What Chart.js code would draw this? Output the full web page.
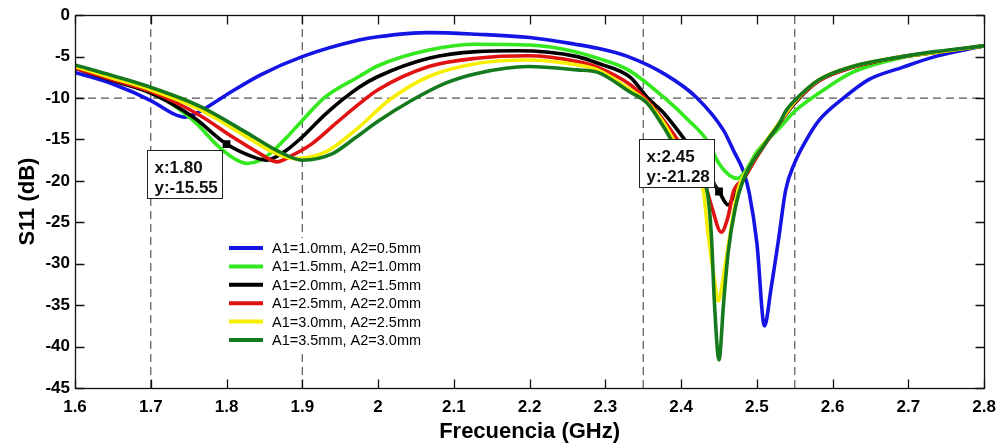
<!DOCTYPE html>
<html><head><meta charset="utf-8">
<script src="https://cdn.jsdelivr.net/npm/chart.js@4.4.1/dist/chart.umd.min.js"></script>
<style>html,body{margin:0;padding:0;background:#fff;}canvas{display:block;}</style>
</head><body>
<canvas id="c" width="1005" height="447"></canvas>
<script>
// ---------- data ----------
const seriesLabels = ['A1=1.0mm, A2=0.5mm','A1=1.5mm, A2=1.0mm','A1=2.0mm, A2=1.5mm','A1=2.5mm, A2=2.0mm','A1=3.0mm, A2=2.5mm','A1=3.5mm, A2=3.0mm'];

const freqBlue = [1.60,1.65,1.70,1.73,1.745,1.765,1.80,1.845,1.90,1.975,2.00,2.067,2.13,2.20,2.26,2.29,2.33,2.38,2.42,2.456,2.47,2.482,2.49,2.50,2.51,2.519,2.529,2.538,2.55,2.565,2.582,2.613,2.647,2.692,2.735,2.80];
const s11Blue  = [-6.9,-8.3,-10.3,-11.9,-12.3,-11.6,-9.6,-7.2,-5.0,-3.0,-2.6,-2.1,-2.3,-2.7,-3.5,-4.0,-5.0,-7.2,-9.9,-13.9,-16.5,-18.8,-21.5,-27.5,-37.5,-32.8,-26.8,-21.1,-17.8,-15.1,-12.7,-10.1,-7.8,-6.3,-5.0,-3.7];

const freqGreen = [1.60,1.65,1.70,1.756,1.79,1.81,1.827,1.845,1.86,1.88,1.90,1.93,1.975,2.00,2.067,2.13,2.20,2.26,2.29,2.33,2.377,2.41,2.434,2.45,2.465,2.475,2.485,2.50,2.53,2.551,2.582,2.626,2.692,2.735,2.80];
const s11Green  = [-6.2,-7.7,-9.2,-12.7,-15.9,-17.3,-17.9,-17.5,-16.5,-14.7,-12.7,-9.9,-7.4,-6.1,-4.2,-3.5,-3.6,-4.4,-5.2,-6.6,-9.9,-12.7,-15.1,-17.9,-19.4,-19.7,-18.8,-16.5,-13.6,-11.5,-9.4,-6.9,-5.1,-4.5,-3.7];

const freqBlack = [1.60,1.65,1.70,1.756,1.80,1.835,1.853,1.879,1.90,1.931,1.975,2.00,2.067,2.13,2.184,2.263,2.29,2.333,2.355,2.377,2.398,2.417,2.435,2.45,2.462,2.472,2.482,2.50,2.51,2.53,2.551,2.582,2.626,2.692,2.735,2.80];
const s11Black  = [-6.4,-7.9,-9.4,-12.3,-15.55,-17.1,-17.5,-16.3,-14.7,-11.9,-8.7,-7.4,-5.2,-4.4,-4.3,-5.0,-5.8,-7.5,-9.9,-11.8,-14.2,-16.6,-19.2,-21.28,-22.9,-21.4,-19.9,-17.0,-15.6,-13.0,-10.5,-7.9,-6.3,-5.0,-4.5,-3.7];

const freqRed = [1.60,1.65,1.70,1.765,1.808,1.844,1.866,1.887,1.913,1.945,1.975,2.00,2.067,2.13,2.198,2.263,2.29,2.333,2.355,2.377,2.398,2.43,2.44,2.453,2.462,2.469,2.482,2.50,2.51,2.53,2.551,2.582,2.626,2.692,2.735,2.80];
const s11Red  = [-6.4,-7.8,-9.2,-12.1,-14.7,-16.7,-17.7,-16.9,-15.5,-13.0,-10.7,-9.0,-6.2,-5.2,-4.9,-5.6,-6.3,-8.4,-10.3,-12.7,-15.4,-19.9,-23.0,-26.2,-24.3,-21.3,-19.8,-17.1,-15.7,-13.0,-10.4,-7.9,-6.3,-5.0,-4.5,-3.7];

const freqYellow = [1.60,1.65,1.70,1.765,1.818,1.861,1.89,1.931,1.975,2.014,2.067,2.132,2.198,2.263,2.29,2.333,2.355,2.377,2.398,2.429,2.436,2.444,2.449,2.457,2.466,2.475,2.49,2.51,2.53,2.551,2.582,2.626,2.692,2.735,2.80];
const s11Yellow  = [-6.2,-7.6,-9.0,-11.4,-14.2,-16.5,-17.3,-16.5,-13.5,-10.3,-7.4,-5.8,-5.4,-6.0,-6.6,-9.0,-10.5,-13.0,-16.3,-21.1,-26.7,-32.0,-34.5,-30.8,-25.6,-21.1,-18.3,-15.5,-12.9,-10.3,-7.8,-6.2,-5.0,-4.5,-3.7];

const freqDkGreen = [1.60,1.65,1.70,1.765,1.827,1.87,1.90,1.94,1.97,2.00,2.044,2.089,2.132,2.198,2.263,2.29,2.333,2.355,2.377,2.398,2.434,2.44,2.444,2.45,2.456,2.462,2.471,2.482,2.51,2.53,2.538,2.551,2.582,2.626,2.692,2.735,2.80];
const s11DkGreen  = [-6.0,-7.3,-8.7,-11.0,-14.2,-16.5,-17.5,-16.7,-14.8,-12.8,-10.3,-8.2,-7.0,-6.2,-6.6,-6.9,-9.3,-10.6,-13.5,-16.6,-21.1,-26.7,-34.8,-41.6,-34.8,-28.7,-23.5,-19.9,-15.6,-13.0,-11.6,-10.2,-7.8,-6.2,-5.0,-4.4,-3.7];

const xTicks = [1.6,1.7,1.8,1.9,2.0,2.1,2.2,2.3,2.4,2.5,2.6,2.7,2.8];
const yTicks = [0,-5,-10,-15,-20,-25,-30,-35,-40,-45];
const refLinesX = [1.7,1.9,2.35,2.55];
const refLinesY = [-10];
const tipX = [1.80,2.45];
const tipY = [-15.55,-21.28];

// ---------- style ----------
const colors = ['#1414e4','#34e81e','#000000','#e01212','#f6f000','#157a1e'];
const FONT = '"Liberation Sans", Arial, Helvetica, sans-serif';
const freqs = [freqBlue,freqGreen,freqBlack,freqRed,freqYellow,freqDkGreen];
const vals  = [s11Blue,s11Green,s11Black,s11Red,s11Yellow,s11DkGreen];
const pts = (xs, ys) => xs.map((x,i)=>({x:x, y:ys[i]}));

const xMin = xTicks[0], xMax = xTicks[xTicks.length-1];
const yMin = Math.min(...yTicks), yMax = Math.max(...yTicks);

const datasets = [];
refLinesX.forEach(v => datasets.push({data:[{x:v,y:yMin},{x:v,y:yMax}], borderColor:'#555', borderWidth:1.2, borderDash:[8,5], pointRadius:0, tension:0, order:20}));
refLinesY.forEach(v => datasets.push({data:[{x:xMin,y:v},{x:xMax,y:v}], borderColor:'#555', borderWidth:1.2, borderDash:[8,5], pointRadius:0, tension:0, order:20}));
seriesLabels.forEach((lab,i) => datasets.push({
  label:lab, data:pts(freqs[i], vals[i]), borderColor:colors[i], borderWidth:3.6,
  pointRadius:0, cubicInterpolationMode:'monotone', fill:false, order:10-i
}));
datasets.push({data:pts(tipX, tipY), showLine:false, pointStyle:'rect', pointRadius:5.5, backgroundColor:'#000', borderColor:'#000', borderWidth:0, order:0});

const fmt = v => (Math.round(v*100)/100).toFixed(2);

const decor = {
  id:'decor',
  afterDraw(chart){
    const {ctx, chartArea:a, scales:{x,y}} = chart;
    ctx.save();
    // frame
    ctx.strokeStyle = '#111'; ctx.lineWidth = 1.3; ctx.setLineDash([]);
    const L = Math.round(a.left)+0.5, R = Math.round(a.right)+0.5, T = Math.round(a.top)+0.5, B = Math.round(a.bottom)+0.5;
    ctx.strokeRect(L, T, R-L, B-T);
    // inward ticks
    ctx.beginPath();
    xTicks.forEach(v => { const px = Math.round(x.getPixelForValue(v))+0.5;
      ctx.moveTo(px,B); ctx.lineTo(px,B-9); ctx.moveTo(px,T); ctx.lineTo(px,T+9); });
    yTicks.forEach(v => { const py = Math.round(y.getPixelForValue(v))+0.5;
      ctx.moveTo(L,py); ctx.lineTo(L+9,py); ctx.moveTo(R,py); ctx.lineTo(R-9,py); });
    ctx.stroke();

    // legend
    const lx = 219, ly = 238;
    ctx.fillStyle = '#fff';
    ctx.fillRect(lx, ly, 228, 116);
    ctx.font = '14.5px ' + FONT;
    ctx.textBaseline = 'middle'; ctx.textAlign = 'left';
    seriesLabels.forEach((lab,i) => {
      const ry = 248 + i*18.4;
      ctx.strokeStyle = colors[i]; ctx.lineWidth = 4;
      ctx.beginPath(); ctx.moveTo(229, ry); ctx.lineTo(263, ry); ctx.stroke();
      ctx.fillStyle = '#000';
      ctx.fillText(lab, 272, ry+1);
    });

    // datatips
    ctx.font = 'bold 17px ' + FONT;
    ctx.textBaseline = 'alphabetic';
    tipX.forEach((tx,i) => {
      const mx = x.getPixelForValue(tx), my = y.getPixelForValue(tipY[i]);
      const w = 75, h = 48;
      let left = mx - 80, top = (i === 0) ? my + 6 : my - 52;
      left = Math.round(left)+0.5; top = Math.round(top)+0.5;
      ctx.fillStyle = '#fff'; ctx.fillRect(left, top, w, h);
      ctx.strokeStyle = '#222'; ctx.lineWidth = 1; ctx.strokeRect(left, top, w, h);
      if (i === 1) {
        ctx.lineWidth = 1.5; ctx.beginPath();
        ctx.moveTo(left + w, top + h - 6); ctx.lineTo(mx - 2, my - 2); ctx.stroke();
      }
      ctx.fillStyle = '#111';
      ctx.fillText('x:' + fmt(tx), left + 7, top + 22);
      ctx.fillText('y:' + fmt(tipY[i]), left + 7, top + 42);
    });
    ctx.restore();
  }
};

new Chart(document.getElementById('c'), {
  type:'line',
  data:{datasets},
  options:{
    responsive:false, animation:false, devicePixelRatio:1,
    layout:{padding:{top:15, right:16, left:0, bottom:0}},
    plugins:{legend:{display:false}, tooltip:{enabled:false}},
    scales:{
      x:{type:'linear', min:xMin, max:xMax,
        afterBuildTicks: s => { s.ticks = xTicks.map(v=>({value:v})); },
        afterFit: s => { s.height = 59; },
        grid:{display:false, drawTicks:false}, border:{display:false},
        ticks:{padding:9, color:'#000', font:{family:FONT, size:17, weight:'bold'},
          callback: v => String(Math.round(v*10)/10), maxRotation:0, autoSkip:false},
        title:{display:true, text:'Frecuencia (GHz)', color:'#000', padding:{top:0,bottom:2},
          font:{family:FONT, size:22, weight:'bold'}}
      },
      y:{type:'linear', min:yMin, max:yMax,
        afterBuildTicks: s => { s.ticks = yTicks.slice().reverse().map(v=>({value:v})); },
        afterFit: s => { s.width = 75; },
        grid:{display:false, drawTicks:false}, border:{display:false},
        ticks:{padding:5, color:'#000', font:{family:FONT, size:17, weight:'bold'}, autoSkip:false},
        title:{display:true, text:'S11 (dB)', color:'#000', padding:{top:15,bottom:0},
          font:{family:FONT, size:22, weight:'bold'}}
      }
    }
  },
  plugins:[decor]
});
</script>
</body></html>
